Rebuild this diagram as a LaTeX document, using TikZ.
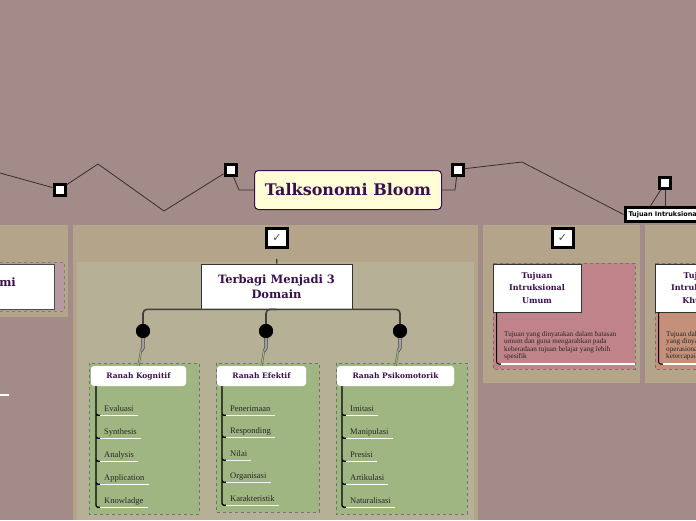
\documentclass[tikz,border=0pt]{standalone}
\usepackage{fontspec}
\setmainfont{Liberation Serif}
\newfontfamily\slabfont{DejaVu Serif}
\newfontfamily\symbolfont{DejaVu Sans}
\usetikzlibrary{positioning,shadows}

\definecolor{bgmauve}{RGB}{163,139,138}
\definecolor{paneltan}{RGB}{179,164,138}
\definecolor{innerkhaki}{RGB}{181,176,150}
\definecolor{leafgreen}{RGB}{160,182,130}
\definecolor{rosebox}{RGB}{192,131,138}
\definecolor{peachbox}{RGB}{196,144,122}
\definecolor{lilacbox}{RGB}{181,154,162}
\definecolor{titlefill}{RGB}{255,253,214}
\definecolor{deeppurple}{RGB}{58,15,79}
\definecolor{twigbrown}{RGB}{58,46,46}

\begin{document}
\begin{tikzpicture}[x=1pt,y=-1pt,
    twig/.style={draw=twigbrown, line width=0.8pt},
    marker/.style={draw=black, line width=3pt, fill=white, minimum size=11pt, inner sep=0pt},
    tickbox/.style={draw=black, line width=3pt, fill=white, minimum width=21pt, minimum height=19pt, inner sep=0pt, text=black!70, font=\symbolfont\fontsize{11}{11}\selectfont},
    title/.style={draw=deeppurple, line width=1pt, fill=titlefill, rounded corners=4pt, minimum width=187pt, minimum height=39pt, text=deeppurple, font=\slabfont\bfseries\fontsize{16}{18}\selectfont},
    topic/.style={draw=black!80, line width=0.6pt, fill=white, text=deeppurple, align=center, inner sep=0pt, font=\slabfont\bfseries\fontsize{11.5}{15.5}\selectfont, drop shadow={shadow xshift=1.2pt, shadow yshift=-1.2pt, fill=black!45, opacity=1}},
    tag/.style={draw=black, line width=3pt, fill=white, minimum height=14pt, inner xsep=3.5pt, inner ysep=0pt, font=\symbolfont\bfseries\fontsize{6.5}{7}\selectfont},
    branch/.style={draw=black!75, line width=1.6pt, rounded corners=4pt},
    dot/.style={circle, fill=black, minimum size=14pt, inner sep=0pt},
    stem/.style={draw=black!75, line width=0.6pt, double=gray!75, double distance=2pt},
    stemtip/.style={draw=black!70, line width=0.4pt, double=leafgreen, double distance=1.2pt},
    leafbox/.style={draw=black!55, dashed, line width=0.6pt, fill=leafgreen},
    header/.style={fill=white, rounded corners=3pt, minimum height=20pt, inner sep=0pt, text=deeppurple, font=\slabfont\bfseries\fontsize{7.5}{8}\selectfont},
    item/.style={anchor=base west, inner xsep=4pt, inner ysep=2.5pt, text depth=1.5pt, text=black!85, font=\fontsize{8.5}{10}\selectfont},
    trunk/.style={draw=black, line width=1.3pt, rounded corners=2pt},
    uline/.style={draw=white, line width=1.3pt},
    desc/.style={anchor=north west, align=left, inner sep=0pt, text=black!85, font=\fontsize{7.2}{7.5}\selectfont},
]
\useasboundingbox (0,0) rectangle (696,520);
\clip (0,0) rectangle (696,520);
\fill[bgmauve] (0,0) rectangle (696,520);

% panels
\fill[paneltan] (0,225) rectangle (68,317);
\fill[paneltan] (73,225) rectangle (478,520);
\fill[innerkhaki] (77,262) rectangle (474,520);
\fill[paneltan] (483,225) rectangle (640,383);
\fill[paneltan] (645,225) rectangle (720,383);

% top line
\coordinate (edgeL) at (0,173);
\coordinate (peakL) at (98,164);
\coordinate (dipL) at (164,211);
\coordinate (peakR) at (522,162);

\node[marker] (m1) at (59.5,189.5) {};
\node[marker] (m2) at (230.5,169.5) {};
\node[marker] (m3) at (457.5,169.5) {};
\node[marker] (m4) at (665,183) {};

\node[title] (talk) at (348,190) {Talksonomi Bloom};
\node[tag, anchor=west] (khususTag) at (623.5,214.5) {Tujuan Intruksional Khusus};

\draw[twig] (edgeL) -- (m1);
\draw[twig] (m1) -- (peakL) -- (dipL) -- (m2);
\draw[twig] (m2) -- ([xshift=-15pt]talk.west) -- (talk.west);
\draw[twig] (talk.east) -- ++(13,0) -- (m3);
\draw[twig] (m3) -- (peakR) -- (khususTag.west);
\draw[twig] (m4) -- ([xshift=27pt]khususTag.north west);
\draw[twig] (m4) -- (m4 |- khususTag.north);

% left panel
\draw[draw=black!50, dashed, fill=lilacbox] (-5,262) rectangle (64,311);
\node[draw=black!70, fill=white, minimum width=60pt, minimum height=45pt] (leftbox) at (24,286.5) {};
\node[anchor=base east, inner sep=0pt, text=deeppurple, font=\slabfont\bfseries\fontsize{11.5}{15}\selectfont] (leftlabel) at (16,286) {mi};
\draw[uline] (0,395) -- (9,395);

% middle panel
\node[tickbox] (check1) at (277,238) {✓};
\node[topic, minimum width=151pt, minimum height=45pt] (terbagi) at (276.5,286.5) {Terbagi Menjadi 3\\Domain};
\draw[draw=black!80, line width=1.2pt, shorten <=10pt] (check1) -- (terbagi);

\node[dot] (dot1) at (143,331) {};
\node[dot] (dot2) at (266,331) {};
\node[dot] (dot3) at (400,331) {};
\draw[branch] (terbagi.south) -| (dot1);
\draw[branch] (terbagi.south) -| (dot2);
\draw[branch] (terbagi.south) -| (dot3);

\draw[leafbox] (89,363) rectangle (199,514);
\draw[leafbox] (216,363) rectangle (319,512);
\draw[leafbox] (336,363) rectangle (467,514);

\node[header, minimum width=95pt] (kogHead) at (138.5,376) {Ranah Kognitif};
\node[header, minimum width=89pt] (efeHead) at (261.5,376) {Ranah Efektif};
\node[header, minimum width=117pt] (psiHead) at (395.5,376) {Ranah Psikomotorik};

\draw[stem] (dot1.center) -- ++(0,17) -- ++(-2,3) coordinate (k1);
\draw[stemtip] (k1) -- (kogHead.north);
\draw[stem] (dot2.center) -- ++(0,17) -- ++(-2,3) coordinate (k2);
\draw[stemtip] (k2) -- (efeHead.north);
\draw[stem] (dot3.center) -- ++(0,17) -- ++(-2,3) coordinate (k3);
\draw[stemtip] (k3) -- (psiHead.north);
\node[dot] at (dot1) {};
\node[dot] at (dot2) {};
\node[dot] at (dot3) {};

% Ranah Kognitif
\node[item] (kog1) at (100,411) {Evaluasi};
\node[item] (kog2) at (100,434) {Synthesis};
\node[item] (kog3) at (100,457) {Analysis};
\node[item] (kog4) at (100,480) {Application};
\node[item] (kog5) at (100,503) {Knowladge};
\draw[trunk] (96,386) |- (kog1.south west) (96,386) |- (kog2.south west) (96,386) |- (kog3.south west)
  (96,386) |- (kog4.south west) (96,386) |- (kog5.south west);
\draw[uline] (kog1.south west) -- (kog1.south east) (kog2.south west) -- (kog2.south east)
  (kog3.south west) -- (kog3.south east) (kog4.south west) -- (kog4.south east)
  (kog5.south west) -- (kog5.south east);

% Ranah Efektif
\node[item] (efe1) at (226,411) {Penerimaan};
\node[item] (efe2) at (226,433) {Responding};
\node[item] (efe3) at (226,456) {Nilai};
\node[item] (efe4) at (226,478) {Organisasi};
\node[item] (efe5) at (226,501) {Karakteristik};
\draw[trunk] (222,386) |- (efe1.south west) (222,386) |- (efe2.south west) (222,386) |- (efe3.south west)
  (222,386) |- (efe4.south west) (222,386) |- (efe5.south west);
\draw[uline, draw=white!85!leafgreen] (efe1.south west) -- (efe1.south east) (efe2.south west) -- (efe2.south east)
  (efe3.south west) -- (efe3.south east) (efe4.south west) -- (efe4.south east)
  (efe5.south west) -- (efe5.south east);

% Ranah Psikomotorik
\node[item] (psi1) at (346,411) {Imitasi};
\node[item] (psi2) at (346,434) {Manipulasi};
\node[item] (psi3) at (346,457) {Presisi};
\node[item] (psi4) at (346,480) {Artikulasi};
\node[item] (psi5) at (346,503) {Naturalisasi};
\draw[trunk] (342,386) |- (psi1.south west) (342,386) |- (psi2.south west) (342,386) |- (psi3.south west)
  (342,386) |- (psi4.south west) (342,386) |- (psi5.south west);
\draw[uline] (psi1.south west) -- (psi1.south east) (psi2.south west) -- (psi2.south east)
  (psi3.south west) -- (psi3.south east) (psi4.south west) -- (psi4.south east)
  (psi5.south west) -- (psi5.south east);

% Tujuan Intruksional Umum
\node[tickbox] (check2) at (562.5,238) {✓};
\draw[draw=black!55, dashed, line width=0.6pt, fill=rosebox] (493,263) rectangle (635,369);
\node[topic, minimum width=88pt, minimum height=48pt, font=\slabfont\bfseries\fontsize{8}{12.5}\selectfont,
  drop shadow={shadow xshift=0pt, shadow yshift=0pt, opacity=0}] (umum) at (537,288) {Tujuan\\Intruksional\\Umum};
\node[desc] (umumText) at (504,331) {Tujuan yang dinyatakan dalam batasan\\umum dan guna mengarahkan pada\\keberadaan tujuan belajar yang lebih\\spesifik};
\draw[trunk, line width=1pt] ([xshift=4pt]umum.south west) |- (501,364);
\draw[uline] (501,364) -- (635,364);

% Tujuan Intruksional Khusus
\draw[draw=black!55, dashed, line width=0.6pt, fill=peachbox] (655,263) rectangle (797,369);
\node[topic, minimum width=88pt, minimum height=48pt, font=\slabfont\bfseries\fontsize{8}{12.5}\selectfont,
  drop shadow={shadow xshift=0pt, shadow yshift=0pt, opacity=0}] (khusus) at (699,288) {Tujuan\\Intruksional\\Khusus};
\node[desc] (khususText) at (666,331) {Tujuan dalam batasan\\yang dinyatakan secara\\operasional dan\\ketercapaian};
\draw[trunk, line width=1pt] ([xshift=4pt]khusus.south west) |- (663,364);
\draw[uline] (663,364) -- (797,364);

\end{tikzpicture}
\end{document}
